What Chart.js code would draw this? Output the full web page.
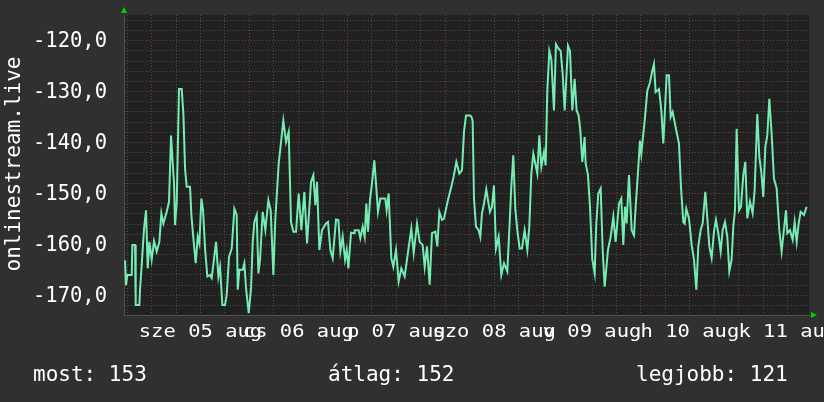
<!DOCTYPE html>
<html>
<head>
<meta charset="utf-8">
<script src="https://cdn.jsdelivr.net/npm/chart.js@4/dist/chart.umd.min.js"></script>
<style>
  html, body { margin: 0; padding: 0; background: #303030; }
  canvas { display: block; }
</style>
</head>
<body>
<canvas id="rrd" width="824" height="402"></canvas>
<script>
// hours since 2020-08-05 00:00
const hours = [
  -6.49, -6.25, -5.92, -4.86, -4.70, -4.04, -3.88, -2.98, -2.82, -2.41, -1.84, -1.35, -0.94, -0.53, 0.04, 0.62, 1.27, 1.92,
  2.41, 2.90, 3.72, 4.29, 4.78, 5.19, 5.52, 5.76, 6.17, 6.74, 7.40, 7.81, 8.22, 8.62, 9.44, 9.77, 10.26, 10.83, 11.32, 11.73,
  12.22, 12.63, 13.12, 13.69, 14.34, 14.75, 15.82, 16.39, 16.80, 17.37, 18.02, 18.43, 19.00, 19.66, 20.31, 20.88,
  21.13, 21.54, 22.35, 22.76, 23.17, 23.83, 24.40, 24.81, 25.21, 25.79, 26.20, 26.60, 27.26, 27.91, 28.65, 29.22, 29.87, 30.36,
  31.18, 31.75, 32.32, 32.98, 33.63, 34.20, 34.78, 35.43, 36.08, 36.74, 37.47, 38.13, 39.11, 39.68, 40.17, 40.58, 41.15, 41.80,
  42.78, 43.27, 43.85, 44.42, 45.24, 45.81, 46.30, 46.87, 47.44, 47.85, 48.26, 48.91, 49.65,
  49.80, 50.78, 51.19, 51.77, 52.26, 52.66, 53.07, 53.56, 54.05, 54.63, 55.03, 55.52, 56.10, 57.32, 57.65, 58.14, 58.79, 59.28,
  59.94, 60.59, 61.24, 62.06, 62.63, 63.70, 64.27, 65.09, 65.74, 66.47, 66.97, 67.54, 68.19, 68.76, 69.58, 70.07, 70.56, 71.21,
  71.71, 72.68, 73.50, 74.07, 74.73, 75.46, 76.12, 76.61, 77.10, 78.08,
  78.41, 78.73, 79.06, 79.55, 80.21, 80.61, 81.02, 81.51, 82.08, 82.49, 82.98, 83.47, 83.96, 84.45, 85.11, 85.76, 86.42, 87.23,
  87.72, 88.21, 88.70, 89.19, 89.68, 90.26, 90.83, 91.48, 92.14, 92.63, 93.12, 93.61, 94.59, 95.08, 95.57, 96.22, 96.63, 97.04,
  97.53, 98.02, 98.67, 99.16, 99.82, 100.31, 100.80, 101.29, 102.11, 102.60, 103.17, 103.74, 104.23, 104.72, 105.13, 105.62, 106.19,
  106.44, 107.01, 107.50, 108.07, 108.65, 109.05, 109.54, 110.12, 110.61, 111.10, 111.51, 111.91, 112.57, 113.22, 113.79, 114.61,
  115.18, 115.67, 116.08, 116.49, 117.06, 117.72, 118.29, 118.70, 119.27, 119.76, 120.09, 120.58, 120.99, 121.56, 122.21, 122.78,
  123.19, 123.60, 124.42, 124.99, 125.48, 126.30, 126.87, 127.28, 127.77, 128.50, 129.32, 129.81, 130.38, 130.71, 131.12, 131.77,
  132.43, 133.00, 133.57, 134.06, 134.63,
  135.12, 135.78, 136.27, 136.76, 137.33, 137.90, 138.39, 138.96, 139.54, 140.03, 140.60, 141.17, 141.66, 142.23, 142.64, 143.05,
  143.46, 144.03, 144.52, 145.09, 145.58, 146.07, 146.73, 147.38, 147.87, 148.53, 149.02, 149.51, 150.00, 150.49, 150.98, 151.47,
  152.04, 152.61, 153.27, 153.92, 154.49, 155.55, 155.88, 156.53, 157.19, 157.68, 158.17, 158.66, 159.15, 159.97, 160.62
];
const values = [
  -163.1, -168.0, -166.0, -166.0, -160.1, -160.1, -171.9, -171.9, -168.9, -164.0, -156.9, -153.3, -164.7, -159.5, -163.0, -159.3, -161.4, -159.5,
  -153.9, -155.9, -153.6, -151.6, -138.6, -144.1, -148.0, -156.2, -152.0, -129.5, -129.5, -134.4, -145.1, -148.7, -148.7, -154.2, -158.8, -163.7, -158.5, -159.8,
  -151.0, -153.3, -160.8, -166.3, -166.0, -166.6, -159.5, -166.3, -164.4, -171.9, -171.9, -169.9, -162.4, -160.8, -153.0, -154.2,
  -168.9, -165.0, -165.0, -163.7, -168.6, -173.5, -168.6, -159.5, -155.6, -154.2, -165.7, -163.0, -153.6, -157.2, -151.3, -153.3, -166.0, -154.9,
  -144.1, -139.9, -135.7, -139.9, -137.9, -155.6, -157.5, -157.5, -150.0, -157.2, -149.7, -159.8, -147.7, -146.4, -152.3, -147.7, -161.1, -157.2,
  -155.9, -155.6, -161.1, -162.7, -155.1, -155.2, -161.4, -158.5, -163.0, -161.1, -164.7, -157.7, -157.8,
  -157.2, -157.2, -158.8, -156.5, -158.5, -152.0, -157.5, -151.3, -148.0, -143.5, -148.0, -153.6, -151.0, -151.0, -153.3, -150.0, -162.7, -164.4,
  -161.1, -167.3, -164.7, -166.3, -163.0, -156.9, -161.7, -155.9, -159.5, -160.1, -164.4, -160.4, -167.9, -157.8, -157.5, -160.4, -153.6, -155.2,
  -154.9, -151.3, -148.7, -146.7, -143.8, -146.1, -145.4, -137.9, -134.7, -134.7,
  -134.9, -135.7, -151.0, -156.5, -157.2, -158.5, -153.9, -152.0, -149.2, -151.3, -153.6, -152.6, -148.4, -160.8, -158.5, -166.0, -163.7, -165.3,
  -157.2, -148.7, -142.5, -153.0, -157.2, -160.8, -160.8, -157.2, -161.1, -156.5, -146.1, -142.2, -146.1, -138.6, -144.8, -141.9, -144.5, -129.8,
  -122.0, -123.6, -133.7, -120.7, -121.6, -122.0, -126.5, -133.7, -121.0, -122.0, -133.7, -127.5, -133.7, -134.7, -137.6, -143.8, -138.9,
  -144.1, -146.4, -152.6, -163.0, -165.7, -155.9, -150.0, -149.0, -161.1, -168.3, -164.7, -161.1, -158.5, -154.6, -159.5, -152.0,
  -151.0, -160.1, -152.6, -155.9, -146.4, -157.2, -158.2, -152.6, -145.8, -139.6, -142.2, -138.3, -135.0, -129.8, -128.2, -125.9,
  -124.6, -130.1, -129.5, -133.7, -140.2, -126.8, -126.8, -135.0, -134.0, -137.0, -140.2, -148.7, -155.6, -155.9, -153.0, -154.9,
  -160.1, -163.0, -168.9, -160.4, -157.2,
  -155.9, -149.7, -154.9, -160.4, -162.7, -157.5, -155.2, -157.8, -161.4, -157.2, -155.6, -158.5, -165.3, -163.0, -156.5, -153.3,
  -137.3, -153.3, -152.6, -146.4, -143.8, -154.9, -151.6, -153.9, -149.4, -134.4, -142.8, -145.8, -150.7, -140.9, -138.6, -131.4,
  -138.3, -147.1, -149.0, -157.2, -161.4, -153.3, -157.8, -157.2, -159.1, -155.6, -159.5, -155.9, -153.6, -154.2, -152.6
];

const dayLabels = ['sze 05 aug', 'cs 06 aug', 'p 07 aug', 'szo 08 aug', 'v 09 aug', 'h 10 aug', 'k 11 aug'];
const dayNoons = [12, 36, 60, 84, 108, 132, 156];
const yTickValues = [-120, -130, -140, -150, -160, -170];
const yTitle = 'onlinestream.live';
const summary = ['most: 153', 'átlag: 152', 'legjobb: 121'];

const MONO = '"DejaVu Sans Mono", monospace';
const fmt = v => v.toFixed(1).replace('.', ',');

const rrdLook = {
    id: 'rrdLook',
    beforeDraw(chart) {
        const { ctx, chartArea: a } = chart;
        ctx.save();
        ctx.fillStyle = '#303030';
        ctx.fillRect(0, 0, chart.width, chart.height);
        ctx.fillStyle = '#212121';
        ctx.fillRect(a.left, a.top, a.right - a.left, a.bottom - a.top);
        ctx.restore();
    },
    afterDraw(chart) {
        const { ctx, chartArea: a } = chart;
        const xs = chart.scales.x, ys = chart.scales.y;
        ctx.save();
        ctx.fillStyle = '#ffffff';

        // y tick labels
        ctx.font = '20.5px ' + MONO;
        ctx.textAlign = 'right';
        ctx.textBaseline = 'middle';
        yTickValues.forEach(v => ctx.fillText(fmt(v), a.left - 17, ys.getPixelForValue(v) + 1));

        // x labels, a bit wide and flat like the original
        ctx.textAlign = 'center';
        ctx.textBaseline = 'alphabetic';
        dayLabels.forEach((t, i) => {
            ctx.save();
            ctx.translate(xs.getPixelForValue(dayNoons[i]), a.bottom + 22);
            ctx.scale(1, 0.85);
            ctx.fillText(t, 0, 0);
            ctx.restore();
        });

        // axis title
        ctx.save();
        ctx.font = '21px ' + MONO;
        ctx.translate(20, (a.top + a.bottom) / 2 - 1);
        ctx.rotate(-Math.PI / 2);
        ctx.fillText(yTitle, 0, 0);
        ctx.restore();

        // summary line
        ctx.font = '21px ' + MONO;
        ctx.textAlign = 'left';
        [33, 328, 636].forEach((x, i) => ctx.fillText(summary[i], x, 381));

        // arrows
        ctx.fillStyle = '#00d000';
        ctx.beginPath();
        ctx.moveTo(a.left - 3, a.top - 2);
        ctx.lineTo(a.left + 3, a.top - 2);
        ctx.lineTo(a.left, a.top - 8);
        ctx.fill();
        ctx.beginPath();
        ctx.moveTo(a.right + 2, a.bottom - 3);
        ctx.lineTo(a.right + 2, a.bottom + 3);
        ctx.lineTo(a.right + 8, a.bottom);
        ctx.fill();
        ctx.restore();
    }
};

const RED = '#7c3a3a', GREY = '#4d4d4d';

new Chart(document.getElementById('rrd'), {
    type: 'line',
    data: {
        datasets: [{
            data: hours.map((h, i) => ({ x: h, y: values[i] })),
            borderColor: '#74ecb2',
            borderWidth: 2,
            pointRadius: 0,
            tension: 0,
            fill: false
        }]
    },
    options: {
        responsive: false,
        animation: false,
        layout: { padding: { left: 124, right: 15, top: 15, bottom: 87 } },
        plugins: { legend: { display: false }, tooltip: { enabled: false } },
        scales: {
            x: {
                type: 'linear',
                min: -6.75,
                max: 161.2,
                ticks: { display: false, stepSize: 6, includeBounds: false },
                grid: { drawTicks: false, color: c => (c.tick && c.tick.value % 24 === 0) ? RED : GREY },
                border: { display: true, color: '#505050', width: 1, dash: [1, 2] }
            },
            y: {
                min: -173.86,
                max: -114.96,
                ticks: { display: false, stepSize: 2, includeBounds: false },
                grid: { drawTicks: false, color: c => (c.tick && c.tick.value % 10 === 0) ? RED : GREY },
                border: { display: true, color: '#505050', width: 1, dash: [1, 2] }
            }
        }
    },
    plugins: [rrdLook]
});
</script>
</body>
</html>
